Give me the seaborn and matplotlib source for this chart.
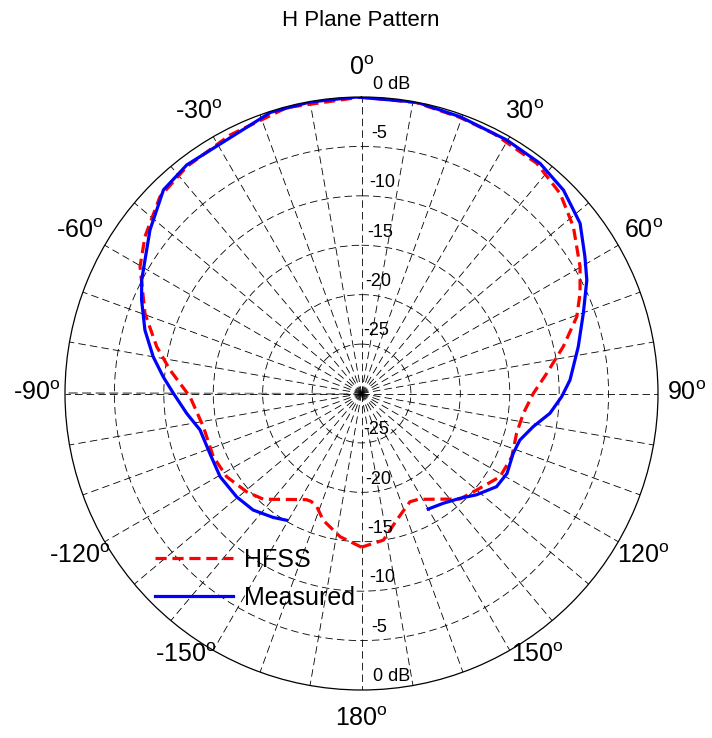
import numpy as np
import pandas as pd
import matplotlib
matplotlib.use("Agg")
import matplotlib.pyplot as plt
import matplotlib.transforms as mtransforms
import seaborn as sns

# angles in degrees (0 = up, clockwise positive), levels in dB
hfss_deg = [-180, -171.5, -163.2, -158.4, -155, -152.6, -137.1, -130.5, -121.7, -113.1,
            -101.9, -91.1, -83.0, -77.1, -69.7, -60.2, -54.1, -45.7, -37.6, -27.0,
            -14.6, 0, 10.7, 19.6, 26.9, 37.3, 44.8, 51.8, 59.9, 65.4,
            70.4, 76.9, 83.8, 90.0, 97.0, 104.4, 112.8, 121.0, 130.0, 137.0,
            151.8, 155.9, 164.5, 171.5, 180]
hfss_db = [-14.45, -15.35, -16.6, -17.7, -17.95, -17.9, -15.4, -14.7, -13.97, -13.7,
           -13.65, -12.65, -10.48, -8.74, -6.64, -4.18, -2.95, -1.5, -1.03, -0.66,
           -0.1, 0.0, -0.05, -0.35, -0.49, -0.73, -1.48, -2.72, -4.44, -5.68,
           -6.88, -9.04, -11.15, -12.62, -13.5, -13.8, -13.5, -13.65, -14.8, -15.4,
           -17.85, -18.0, -16.7, -15.0, -14.45]

meas_deg = [-149.4, -144.5, -137.1, -129.6, -120.5, -111.5, -102.7, -96.5, -89.9, -85.2,
            -80.0, -73.7, -67.0, -62.7, -52.3, -44.2, -37.4, -17.9, -10.0, -1.0,
            10.7, 19.6, 29.8, 37.8, 44.8, 52.1, 58.5, 63.3, 70.1, 77.8,
            86.3, 90.9, 96.0, 100.9, 106.4, 111.5, 118.8, 124.6, 131.4, 136.8,
            143.3, 150.0]
meas_db = [-15.1, -14.6, -13.9, -13.6, -13.4, -13.5, -13.25, -12.2, -10.96, -9.87,
           -8.6, -7.17, -5.83, -4.97, -2.95, -1.26, -0.89, -0.1, -0.05, 0.0,
           0.0, -0.27, -0.44, -0.53, -1.0, -1.97, -3.49, -4.48, -6.13, -7.56,
           -8.86, -9.74, -10.83, -12.3, -13.3, -13.5, -13.2, -13.4, -14.5, -15.45,
           -16.15, -16.5]

ring_db = [0, -5, -10, -15, -20, -25]
ring_labels = ["0 dB", "-5", "-10", "-15", "-20", "-25"]
angle_labels = [0, 30, 60, 90, 120, 150, 180, -150, -120, -90, -60, -30]

floor_db = -30

plt.rcParams['font.family'] = ['Liberation Sans', 'DejaVu Sans']
plt.rcParams['mathtext.fontset'] = 'custom'
plt.rcParams['mathtext.rm'] = 'Liberation Sans'
plt.rcParams['mathtext.default'] = 'regular'

hfss = pd.DataFrame({"theta": np.deg2rad(hfss_deg), "r": np.array(hfss_db) - floor_db})
meas = pd.DataFrame({"theta": np.deg2rad(meas_deg), "r": np.array(meas_db) - floor_db})

fig = plt.figure(figsize=(7.12, 7.38), dpi=100)
ax = fig.add_axes([65 / 712, 48 / 738, 593 / 712, 593 / 738], projection='polar')
ax.set_theta_zero_location('N')
ax.set_theta_direction(-1)

#%% grid
ax.set_thetagrids(np.arange(0, 360, 10), labels=[''] * 36)
ax.set_rgrids([5, 10, 15, 20, 25], labels=[''] * 5)
ax.grid(True, color='black', linestyle=(0, (9, 5)), linewidth=0.6)
ax.axvline(np.deg2rad(-90), color='gray', linestyle=(0, (5, 2.5)), linewidth=1.3, zorder=1)
ax.spines['polar'].set_linewidth(0.9)
ax.spines['polar'].set_color('black')

#%% curves
sns.lineplot(data=hfss, x="theta", y="r", sort=False, estimator=None, ax=ax,
             color='red', linestyle=(0, (3.5, 1.8)), linewidth=2.3, label='HFSS')
sns.lineplot(data=meas, x="theta", y="r", sort=False, estimator=None, ax=ax,
             color='blue', linewidth=2.3, label='Measured')
ax.set_xlabel('')
ax.set_ylabel('')
ax.set_ylim(0, 30)

#%% labels
for a in angle_labels:
    pos, rad = a, 32.9
    if abs(a) == 150:
        # these sit a bit higher in the original
        pos, rad = np.sign(a) * 146, 31.9
    ax.text(np.deg2rad(pos), rad, f"{a}$^{{o}}$", ha='center', va='center', fontsize=18)

shift = mtransforms.offset_copy(ax.transData, fig=fig, x=0, y=9.5, units='points')
for d, lab in zip(ring_db, ring_labels):
    ax.text(np.deg2rad(2.2), d - floor_db, lab, ha='left', va='center', fontsize=13, transform=shift)
    ax.text(np.deg2rad(177.8), d - floor_db, lab, ha='left', va='center', fontsize=13, transform=shift)

fig.text(0.506, 1 - 21 / 738, "H Plane Pattern", ha='center', va='center', fontsize=16)

ax.legend(loc='upper left', bbox_to_anchor=(155 / 712, 1 - 548 / 738), bbox_transform=fig.transFigure,
          frameon=False, fontsize=18, handlelength=3.1, handletextpad=0.45, labelspacing=0.55,
          borderpad=0, borderaxespad=0)

fig.savefig("out.png", dpi=100)
